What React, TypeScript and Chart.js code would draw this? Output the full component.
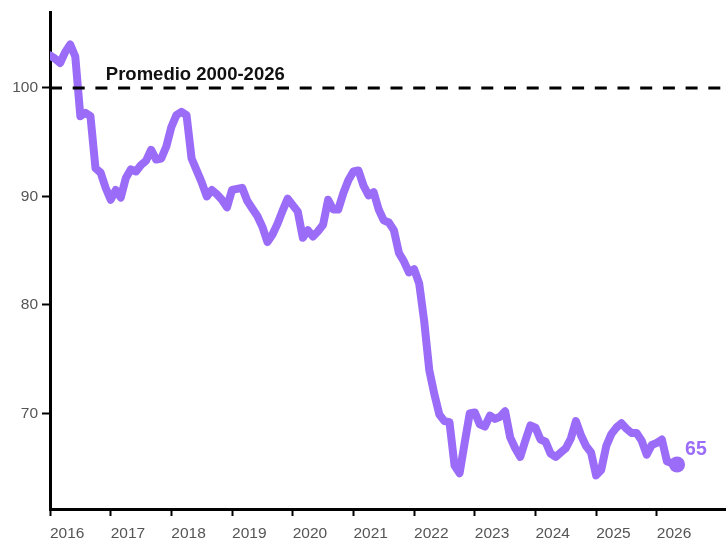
import React, { useEffect, useRef } from "react";
import { Chart, registerables } from "chart.js";

Chart.register(...registerables);

// Monthly index values, starting January 2016
const START_YEAR = 2016;
const indexValues: number[] = [
  103.0, 102.7, 102.3, 103.3, 104.0, 102.9, 97.4, 97.7, 97.4, 92.6, 92.2, 90.8,
  89.7, 90.6, 89.9, 91.7, 92.5, 92.3, 92.9, 93.3, 94.3, 93.4, 93.5, 94.6,
  96.4, 97.5, 97.8, 97.5, 93.5, 92.4, 91.3, 90.0, 90.6, 90.2, 89.7, 89.0,
  90.6, 90.7, 90.8, 89.6, 88.9, 88.2, 87.2, 85.8, 86.5, 87.5, 88.7, 89.8,
  89.2, 88.6, 86.2, 86.9, 86.3, 86.8, 87.4, 89.7, 88.8, 88.8, 90.3, 91.5,
  92.3, 92.4, 91.0, 90.1, 90.4, 88.8, 87.8, 87.6, 86.9, 84.8, 84.0, 83.0,
  83.3, 82.0, 78.5, 74.0, 71.8, 69.9, 69.3, 69.2, 65.2, 64.5, 67.3, 70.0,
  70.1, 69.0, 68.8, 69.8, 69.5, 69.7, 70.2, 67.8, 66.8, 66.0, 67.5, 68.9,
  68.7, 67.6, 67.4, 66.3, 66.0, 66.4, 66.8, 67.7, 69.3, 68.0, 67.0, 66.4,
  64.3, 64.8, 67.0, 68.1, 68.7, 69.1, 68.6, 68.2, 68.2, 67.5, 66.2, 67.1,
  67.3, 67.6, 65.6, 65.4, 65.3,
];

const xTickYears = [2016, 2017, 2018, 2019, 2020, 2021, 2022, 2023, 2024, 2025, 2026];
const yTickValues = [70, 80, 90, 100];
const averageValue = 100;
const averageLabel = "Promedio 2000-2026";
const lastValueLabel = "65";

const X_MIN = 2016;
const X_MAX = 2027.14;
const Y_MIN = 61.2;
const Y_MAX = 107;

const PURPLE = "#9b6cf7";
const FONT = "'Liberation Sans', Arial, sans-serif";

export default function App() {
  const canvasRef = useRef<HTMLCanvasElement>(null);

  useEffect(() => {
    const points = indexValues.map((v, i) => ({ x: START_YEAR + i / 12, y: v }));
    const lastIdx = points.length - 1;

    const textPlugin = {
      id: "annotText",
      afterDatasetsDraw(chart: any) {
        const ctx = chart.ctx;
        const xs = chart.scales.x;
        const ys = chart.scales.y;
        ctx.save();
        ctx.fillStyle = "#111";
        ctx.font = `bold 18.5px ${FONT}`;
        ctx.textAlign = "left";
        ctx.textBaseline = "middle";
        ctx.fillText(averageLabel, xs.getPixelForValue(2016.92), ys.getPixelForValue(averageValue) - 13);

        const meta = chart.getDatasetMeta(1);
        const pt = meta.data[lastIdx];
        ctx.fillStyle = PURPLE;
        ctx.font = `bold 19.5px ${FONT}`;
        ctx.fillText(lastValueLabel, pt.x + 8, pt.y - 15);
        ctx.restore();
      },
    };

    const chart = new Chart(canvasRef.current!, {
      type: "line",
      data: {
        datasets: [
          {
            data: [
              { x: X_MIN, y: averageValue },
              { x: X_MAX, y: averageValue },
            ],
            borderColor: "#000",
            borderWidth: 3,
            borderDash: [12, 10.7],
            pointRadius: 0,
            order: 0,
          },
          {
            data: points,
            borderColor: PURPLE,
            backgroundColor: PURPLE,
            borderWidth: 8,
            borderJoinStyle: "round",
            borderCapStyle: "round",
            tension: 0,
            pointRadius: (c: any) => (c.dataIndex === lastIdx ? 8 : 0),
            pointBackgroundColor: PURPLE,
            pointBorderWidth: 0,
            order: 1,
          },
        ],
      } as any,
      options: {
        animation: false,
        responsive: false,
        maintainAspectRatio: false,
        devicePixelRatio: 1,
        layout: { autoPadding: false, padding: { top: 12, right: 0, left: 0, bottom: 0 } },
        plugins: { legend: { display: false }, tooltip: { enabled: false } },
        scales: {
          x: {
            type: "linear",
            min: X_MIN,
            max: X_MAX,
            afterBuildTicks: (s: any) => {
              s.ticks = xTickYears.map((v) => ({ value: v }));
            },
            afterFit: (s: any) => {
              s.height = 31;
              s.paddingRight = 0;
              s.paddingLeft = 0;
            },
            ticks: {
              align: "start",
              color: "#555",
              font: { family: FONT, size: 15.5 },
              padding: 8,
              maxRotation: 0,
              autoSkip: false,
              callback: (v: any) => String(v),
            },
            grid: {
              drawOnChartArea: false,
              drawTicks: true,
              tickLength: 7,
              tickColor: "#000",
              tickWidth: 2,
            },
            border: { color: "#000", width: 3 },
          },
          y: {
            min: Y_MIN,
            max: Y_MAX,
            afterBuildTicks: (s: any) => {
              s.ticks = yTickValues.map((v) => ({ value: v }));
            },
            afterFit: (s: any) => {
              s.width = 50;
              s.paddingTop = 0;
              s.paddingBottom = 0;
            },
            ticks: {
              color: "#555",
              font: { family: FONT, size: 15.5 },
              padding: 4,
              callback: (v: any) => String(v),
            },
            grid: {
              drawOnChartArea: false,
              drawTicks: true,
              tickLength: 8,
              tickColor: "#000",
              tickWidth: 2,
            },
            border: { color: "#000", width: 3 },
          },
        },
      } as any,
      plugins: [textPlugin],
    });

    return () => chart.destroy();
  }, []);

  return (
    <div style={{ position: "absolute", left: 0, top: 0, width: 726, height: 540, background: "#fff" }}>
      <canvas ref={canvasRef} width={726} height={540} style={{ display: "block", width: 726, height: 540 }} />
    </div>
  );
}
